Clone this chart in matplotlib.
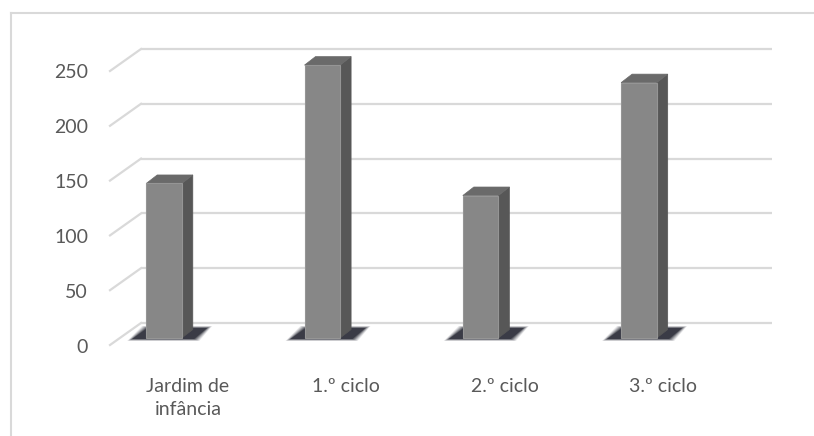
import matplotlib.pyplot as plt
from matplotlib.patches import Polygon
from matplotlib.lines import Line2D

# Dados
categorias = ["Jardim de\ninfância", "1.º ciclo", "2.º ciclo", "3.º ciclo"]
valores = [141, 249, 130, 233]
marcas_y = [0, 50, 100, 150, 200, 250]

# Escalas (pixels por categoria / por unidade)
PX_CAT = 158.3
PX_VAL = 1.096

def dx(px):
    return px / PX_CAT

def dy(px):
    return px / PX_VAL

cinza_texto = "#595959"
cinza_grelha = "#d9d9d9"
cor_frente = "#878787"
cor_lado = "#575757"
cor_topo = "#6a6a6a"

plt.rcParams["font.family"] = ["Lato", "DejaVu Sans"]

fig = plt.figure(figsize=(8.14, 4.36), dpi=100)
ax = fig.add_axes([0, 0, 1, 1])
ax.set_xlim(dx(-164), dx(814 - 164))
ax.set_ylim(dy(-113), dy(436 - 113))
ax.axis("off")

# Moldura do gráfico
fig.add_artist(Line2D([11 / 814, 1], [1 - 13 / 436, 1 - 13 / 436],
                      color=cinza_grelha, lw=1.5))
fig.add_artist(Line2D([11 / 814, 11 / 814], [0, 1 - 13 / 436],
                      color=cinza_grelha, lw=1.5))

# Parede do fundo e parede lateral (linhas de grelha)
x_fundo_esq = dx(-23)
x_fundo_dir = dx(772 - 164)
prof_x, prof_y = dx(-31), dy(-22)
for v in marcas_y:
    ax.plot([x_fundo_esq, x_fundo_dir], [v, v], color=cinza_grelha, lw=1.6,
            solid_capstyle="butt", zorder=1)
    ax.plot([x_fundo_esq + prof_x, x_fundo_esq], [v + prof_y, v],
            color=cinza_grelha, lw=1.6, zorder=1)
    ax.text(dx(-76), v + prof_y - dy(2), str(v), ha="right", va="center",
            fontsize=14, color=cinza_texto)

# Barras 3D
meia = dx(17.8)
base = dy(-15)
lado_x, lado_y = dx(11), dy(8.5)
for i, v in enumerate(valores):
    esq, dir_ = i - meia, i + meia
    topo = base + v

    # sombra difusa (camadas cada vez mais pequenas e escuras)
    for e, a in [(5, 0.10), (4, 0.14), (3, 0.18), (2, 0.24), (1, 0.32), (0, 0.45)]:
        sombra = [(esq + dx(-14 - e), base + dy(-1 - e * 0.4)),
                  (esq + dx(48 + e), base + dy(-1 - e * 0.4)),
                  (esq + dx(61 + e), base + dy(10 + e * 0.4)),
                  (esq + dx(1 - e), base + dy(10 + e * 0.4))]
        ax.add_patch(Polygon(sombra, closed=True, color="#10121f", alpha=a,
                             lw=0, zorder=2))

    lado = [(dir_, base), (dir_ + lado_x, base + lado_y),
            (dir_ + lado_x, topo + lado_y), (dir_, topo)]
    cima = [(esq, topo), (dir_, topo), (dir_ + lado_x, topo + lado_y),
            (esq + lado_x, topo + lado_y)]
    frente = [(esq, base), (dir_, base), (dir_, topo), (esq, topo)]
    ax.add_patch(Polygon(lado, closed=True, fc=cor_lado, ec=cor_lado, lw=0.5, zorder=3))
    ax.add_patch(Polygon(cima, closed=True, fc=cor_topo, ec=cor_topo, lw=0.5, zorder=3))
    ax.add_patch(Polygon(frente, closed=True, fc=cor_frente, ec="#959595", lw=0.8, zorder=4))

    ax.text(i + dx(24), dy(-55), categorias[i], ha="center", va="top",
            fontsize=14, color=cinza_texto, linespacing=1.4)

fig.savefig("out.png", dpi=100)
